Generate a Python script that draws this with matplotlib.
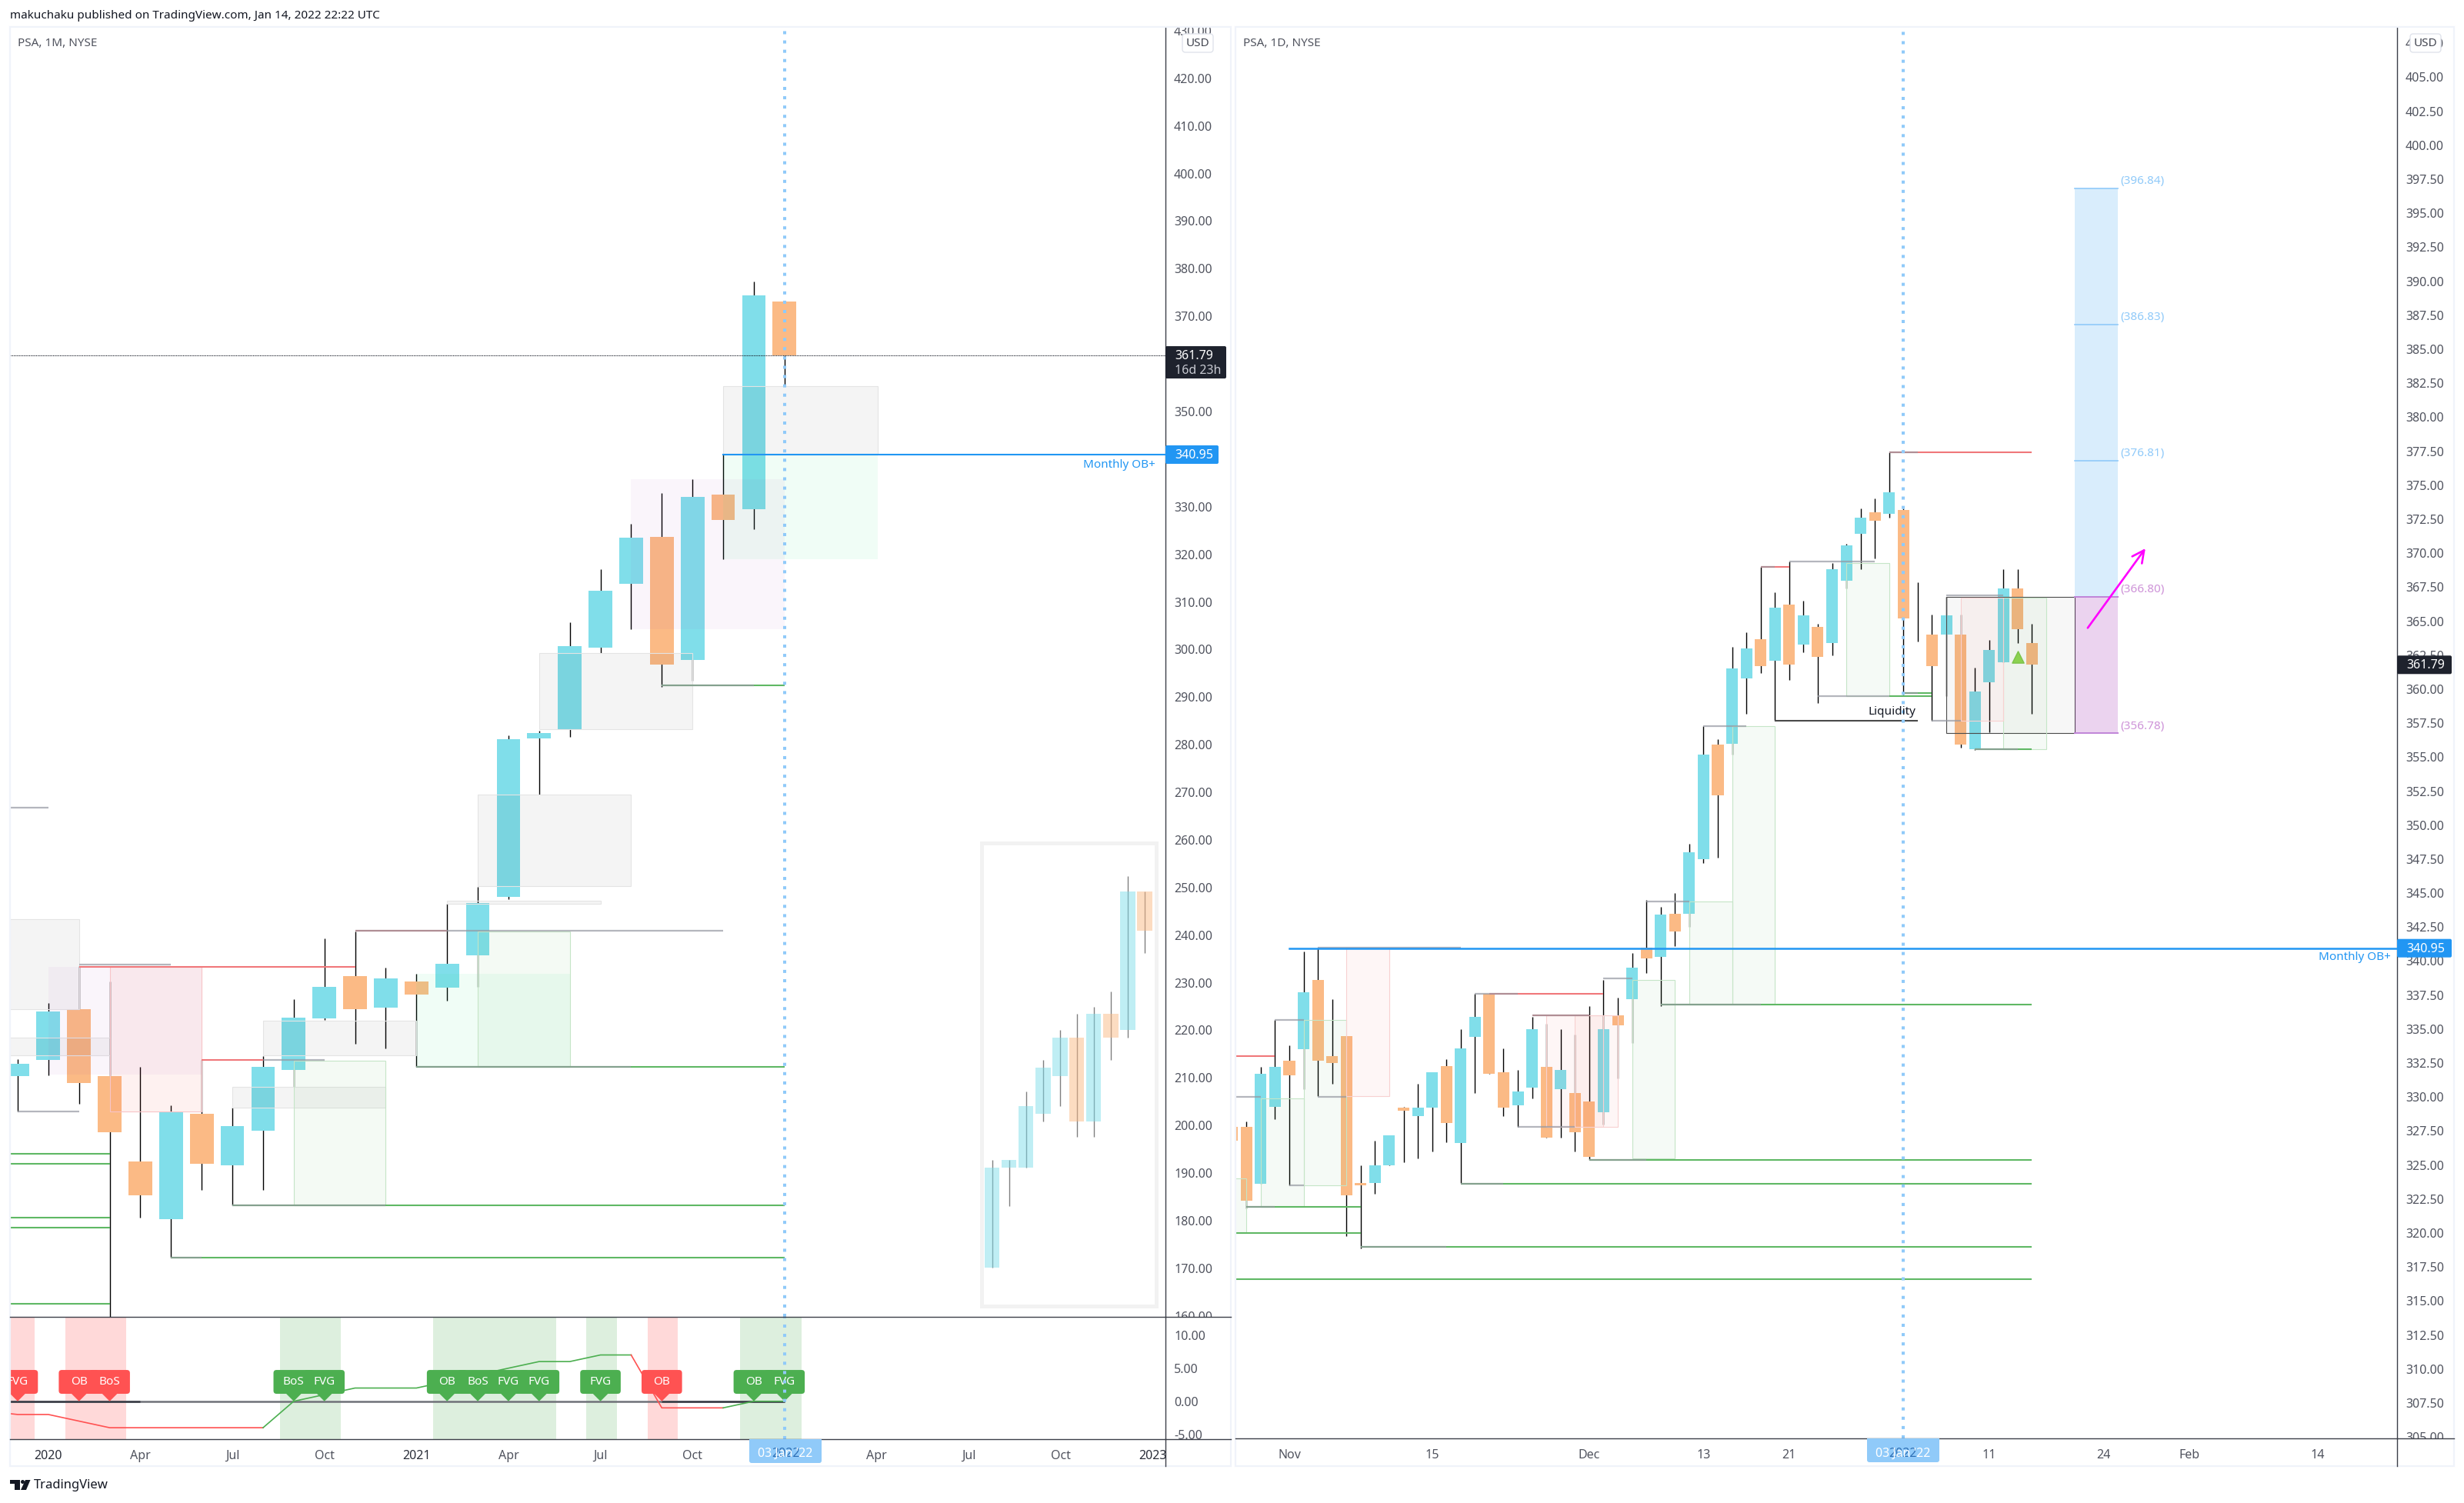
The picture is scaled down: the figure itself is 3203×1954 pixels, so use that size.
#!/usr/bin/env python
"""PSA monthly and daily candlestick charts, side by side."""

import matplotlib

matplotlib.use("Agg")
import matplotlib.pyplot as plt
import numpy as np
from matplotlib.patches import Circle, FancyBboxPatch, Polygon, Rectangle
from matplotlib.transforms import Bbox

W, H = 3203, 1954
plt.rcParams["font.family"] = ["Noto Sans", "DejaVu Sans"]

UP = "#80DEEA"
DOWN = "#FBBA85"
TEXT = "#50535E"
DARK = "#3C3F48"
BLUE = "#2196F3"
DOTTED = "#90CAF9"
GREEN_LINE = "#5FB864"
RED_LINE = "#F0777A"
GRAY_LINE = "#9598A1"

# monthly candles, Dec 2019 = -1, Jan 2020 = 0
M_X = list(range(-1, 25))
M_OPEN = [210.3, 213.7, 224.5, 210.4, 192.4, 180.3, 202.4, 191.6, 198.9, 211.6, 222.5, 231.4, 224.8,
          230.3, 229.0, 235.7, 248.0, 281.3, 283.1, 300.4, 313.8, 323.7, 297.8, 332.6, 329.5, 373.1]
M_HIGH = [214.0, 225.7, 233.5, 230.2, 212.4, 204.2, 213.8, 203.7, 214.6, 226.6, 239.3, 240.8, 233.2,
          231.9, 246.6, 250.1, 282.0, 282.9, 305.7, 316.9, 326.4, 332.9, 335.7, 341.0, 377.3, 373.3]
M_LOW = [203.0, 210.6, 204.5, 150.0, 180.6, 172.3, 186.4, 183.3, 186.4, 208.1, 222.1, 217.2, 216.2,
         212.3, 226.2, 229.2, 247.5, 269.6, 281.6, 299.3, 304.2, 292.2, 293.4, 318.9, 325.3, 355.6]
M_CLOSE = [213.0, 223.9, 209.0, 198.6, 185.4, 202.9, 191.9, 199.9, 212.4, 222.7, 229.2, 224.4, 230.9,
           227.5, 234.0, 246.7, 281.1, 282.5, 300.7, 312.4, 323.5, 296.8, 332.1, 327.2, 374.4, 361.79]

# faded projection candles at the right of the monthly chart
P_X = [30.77, 31.32, 31.87, 32.43, 32.98, 33.53, 34.08, 34.64, 35.19, 35.74]
P_OPEN = [170.1, 191.1, 191.1, 202.4, 210.4, 218.5, 200.8, 223.4, 220.1, 249.2]
P_HIGH = [192.7, 192.7, 207.2, 213.8, 220.1, 223.4, 225.0, 228.2, 252.4, 249.2]
P_LOW = [170.1, 183.0, 191.1, 200.8, 204.0, 197.6, 197.6, 213.7, 218.5, 236.2]
P_CLOSE = [191.1, 192.7, 204.0, 212.1, 218.5, 200.8, 223.4, 218.5, 249.2, 241.0]

# daily candles, 3 Jan 2022 = 46
D_X = list(range(-1, 56))
D_OPEN = [327.8, 327.8, 323.6, 329.3, 332.7, 333.5, 338.6, 333.0, 334.5, 323.7, 323.7, 325.0, 329.2, 328.6,
          329.2, 332.3, 326.6, 334.4, 337.6, 331.8, 329.4, 330.7, 332.2, 330.6, 330.3, 329.7, 328.9, 336.0,
          337.2, 341.0, 340.3, 343.5, 343.5, 347.5, 355.9, 356.0, 360.8, 363.7, 362.1, 366.2, 363.3, 364.6,
          363.4, 368.0, 371.4, 373.0, 372.9, 373.2, 364.97, 364.0, 364.0, 364.0, 355.6, 360.5, 362.0, 367.4, 363.4]
D_HIGH = [327.8, 328.2, 332.2, 335.7, 333.8, 340.7, 341.0, 337.2, 334.5, 325.0, 326.8, 327.2, 329.3, 331.0,
          331.8, 332.8, 335.0, 337.6, 337.6, 333.6, 332.0, 335.9, 335.4, 335.0, 334.6, 336.7, 338.6, 337.3,
          340.6, 344.5, 344.0, 345.0, 348.6, 357.3, 356.3, 363.1, 364.2, 369.0, 367.1, 369.4, 366.5, 364.8,
          369.3, 370.7, 373.3, 374.0, 377.4, 373.3, 367.85, 365.5, 366.8, 365.5, 361.6, 363.6, 368.8, 368.8, 364.8]
D_LOW = [326.8, 321.8, 323.6, 328.4, 323.5, 330.6, 330.1, 331.0, 319.8, 318.9, 322.9, 325.0, 325.2, 325.5,
         326.0, 326.7, 323.7, 330.3, 331.7, 328.6, 327.8, 329.9, 327.0, 327.0, 326.0, 325.4, 328.0, 331.4,
         334.0, 339.1, 336.7, 341.1, 342.5, 347.2, 347.6, 355.2, 358.2, 361.2, 357.7, 360.7, 362.7, 359.0,
         362.5, 367.4, 368.8, 369.6, 372.6, 359.6, 363.5, 357.7, 359.5, 355.7, 355.5, 356.8, 362.0, 363.4, 358.2]
D_CLOSE = [326.8, 322.4, 331.7, 332.2, 331.6, 337.7, 332.7, 332.5, 322.8, 323.5, 325.0, 327.2, 329.0, 329.2,
           331.8, 328.1, 333.6, 335.9, 331.7, 329.2, 330.4, 335.0, 327.0, 332.0, 327.4, 325.6, 335.0, 335.3,
           339.5, 340.2, 343.4, 342.2, 348.0, 355.2, 352.2, 361.5, 363.0, 361.7, 366.0, 361.8, 365.4, 362.4,
           368.8, 370.6, 372.6, 372.4, 374.5, 365.2, 365.0, 361.7, 365.4, 355.9, 359.8, 362.9, 367.4, 364.4, 361.79]

# boxes as (x0, x1, low, high)
M_GRAY = [(22, 27.04, 341.0, 355.4), (16, 21, 283.2, 299.3), (14, 19, 250.3, 269.5), (13, 18, 246.6, 247.3),
          (7, 12, 214.7, 222.0), (6, 11, 203.8, 208.1), (-2, 1, 224.5, 243.3), (-2, 2, 214.8, 218.4)]
M_MINT = [(22, 27.04, 318.9, 341.0), (12, 17, 212.4, 231.9)]
M_GREEN = [(14, 17, 212.4, 240.8), (8, 11, 183.3, 213.6)]
M_PURPLE = [(19, 24, 304.2, 335.7), (0, 5, 210.7, 233.3)]
M_RED = [(2, 5, 203.0, 233.3)]

D_GREEN = [(42, 45, 359.5, 369.3), (34, 37, 336.8, 357.3), (31, 34, 336.8, 344.4), (27, 30, 325.5, 338.6),
           (1, 4, 321.9, 329.9), (4, 7, 323.5, 335.7), (-2, 0, 320.0, 324.0), (53, 56, 355.6, 366.75)]
D_RED = [(7, 10, 330.1, 341.0), (21, 26, 327.8, 336.0), (23, 25, 327.8, 336.0), (50, 53, 357.7, 366.75)]

# levels as (x0, x1, price)
M_GREEN_LEVELS = [(20, 24, 292.4), (12, 24, 212.3), (6, 24, 183.3), (4, 24, 172.3), (-2, 2, 194.0),
                  (-2, 2, 192.0), (-2, 2, 180.6), (-2, 2, 178.5), (-2, 2, 162.6)]
M_RED_LEVELS = [(1, 10, 233.3), (10, 13, 240.9), (5, 7, 213.7)]
M_GRAY_LEVELS = [(20, 23, 292.4), (12, 19, 212.3), (6, 11, 183.3), (4, 5, 172.3), (1, 4, 233.8), (10, 22, 240.9),
                 (7, 9, 213.7), (-1, 1, 203.0), (-2, 0, 266.7)]

D_GREEN_LEVELS = [(29, 55, 336.8), (24, 55, 325.4), (15, 55, 323.6), (8, 55, 319.0), (-2, 55, 316.6),
                  (0, 8, 321.9), (-2, 8, 320.0), (45, 48, 359.5), (46, 48, 359.7), (51, 55, 355.6)]
D_RED_LEVELS = [(45, 55, 377.4), (36, 38, 369.0), (17, 25, 337.6), (20, 24, 336.0), (-2, 2, 333.0)]
D_GRAY_LEVELS = [(29, 36, 336.8), (24, 28, 325.4), (15, 18, 323.6), (8, 14, 319.0), (0, 2, 321.9), (45, 47, 377.4),
                 (36, 37, 369.0), (38, 44, 369.4), (40, 45, 359.5), (46, 47, 359.7), (48, 50, 357.7), (32, 35, 357.3),
                 (51, 54, 355.6), (49, 53, 366.9), (28, 31, 344.4), (25, 27, 338.7), (16, 19, 337.6), (20, 24, 336.0),
                 (19, 23, 327.8), (5, 7, 330.0), (3, 4, 323.5), (2, 4, 335.7), (-2, 1, 330.0), (5, 15, 341.0)]

# long/short tool on the daily chart
TARGETS = [396.84, 386.83, 376.81]
ENTRY = 366.80
STOP = 356.78

# market structure indicator below the monthly chart
IND_X = [-2, -1, 0, 1, 2, 7, 8, 9, 10, 12, 13, 14, 15, 16, 17, 18, 19, 20, 22, 23, 24]
IND_Y = [-1.5, -2, -2, -3, -4, -4, 0, 1, 2, 2, 3, 4, 5, 6, 6, 7, 7, -1, -1, 0, 0]
IND_RED_SPANS = [(-2, -0.45), (0.55, 2.53), (19.53, 20.53)]
IND_GREEN_SPANS = [(7.55, 9.53), (12.55, 16.56), (17.53, 18.53), (22.55, 24.55)]
RED_TAGS = [(-1, "FVG"), (1, "OB"), (2, "BoS"), (20, "OB")]
GREEN_TAGS = [(8, "BoS"), (9, "FVG"), (13, "OB"), (14, "BoS"), (15, "FVG"), (16, "FVG"), (18, "FVG"),
              (23, "OB"), (24, "FVG")]

# the 2022 ticks sit inside the crosshair date tag, drawn with it
M_TICKS = [0, 3, 6, 9, 12, 15, 18, 21, 27, 30, 33, 36]
M_TICK_LABELS = ["2020", "Apr", "Jul", "Oct", "2021", "Apr", "Jul", "Oct", "Apr", "Jul", "Oct", "2023"]
D_TICKS = [3, 13, 24, 32, 38, 52, 60, 66, 75]
D_TICK_LABELS = ["Nov", "15", "Dec", "13", "21", "11", "24", "Feb", "14"]


def px_axes(fig, left, top, right, bottom):
    ax = fig.add_axes([left / W, 1 - bottom / H, (right - left) / W, (bottom - top) / H])
    ax.patch.set_alpha(0)
    for side in ["top", "left", "bottom"]:
        ax.spines[side].set_visible(False)
    ax.spines["right"].set_color(DARK)
    ax.spines["right"].set_linewidth(1.0)
    ax.tick_params(length=0)
    return ax


def draw_candles(ax, x, opens, highs, lows, closes, width, alpha=1.0):
    x, opens, highs, lows, closes = map(np.asarray, (x, opens, highs, lows, closes))
    wicks = ax.vlines(x, lows, highs, color="black", linewidth=1.0, alpha=alpha, zorder=2)
    wicks.set_snap(True)
    colors = [UP if c >= o else DOWN for o, c in zip(opens, closes)]
    ax.bar(x, np.abs(closes - opens), width, bottom=np.minimum(opens, closes), color=colors, alpha=alpha, zorder=3)


def draw_boxes(ax, boxes, face, alpha, edge=None):
    for x0, x1, low, high in boxes:
        ax.add_patch(Rectangle((x0, low), x1 - x0, high - low, facecolor=face, alpha=alpha, edgecolor="none", zorder=4))
        if edge:
            ax.add_patch(Rectangle((x0, low), x1 - x0, high - low, fill=False, edgecolor=edge, linewidth=0.8, zorder=4))


def draw_levels(ax, levels, color, lw=1.5, zorder=5, alpha=1.0):
    for x0, x1, price in levels:
        ax.plot([x0, x1], [price, price], color=color, linewidth=lw, alpha=alpha, solid_capstyle="butt", zorder=zorder)


def price_ticks(ax, ticks, clip):
    ax.yaxis.tick_right()
    ax.set_yticks(ticks)
    ax.set_yticklabels([f"{t:.2f}" for t in ticks], fontsize=11.5, color=TEXT)
    ax.tick_params(axis="y", pad=8)
    for label in ax.get_yticklabels():
        label.set_clip_on(True)
        label.set_clip_box(Bbox.from_extents(clip[0], H - clip[3], clip[2], H - clip[1]))


def time_ticks(ax, ticks, labels):
    ax.set_xticks(ticks)
    ax.set_xticklabels(labels, fontsize=11.5, color=TEXT)
    ax.tick_params(axis="x", pad=10)
    for label in ax.get_xticklabels():
        if label.get_text()[:2] == "20":
            label.set_color("#2A2E39")
            label.set_fontweight("semibold")


def to_px(ax, price):
    return H - ax.transData.transform((0, price))[1]


def price_tag(deco, ax, price, left, width, color, second=None):
    y = to_px(ax, price)
    height = 42 if second else 24
    top = y - 12
    deco.add_patch(FancyBboxPatch((left, top), width, height, boxstyle="round,pad=0,rounding_size=2",
                                  facecolor=color, edgecolor="none", zorder=6))
    deco.text(left + 12, y + 1, f"{price:.2f}", color="white", fontsize=11.5, va="center", ha="left", zorder=7)
    if second:
        deco.text(left + 12, y + 20, second, color="#C8CAD2", fontsize=11.5, va="center", ha="left", zorder=7)


def date_tag(deco, left, right, top, bottom):
    deco.add_patch(FancyBboxPatch((left, top), right - left, bottom - top, boxstyle="round,pad=0,rounding_size=3",
                                  facecolor=DOTTED, edgecolor="none", zorder=6))
    deco.add_patch(Rectangle((left, top), right - left, 6, facecolor=DOTTED, edgecolor="none", zorder=6))
    middle = (left + right) / 2
    deco.text(middle, 1889.5, "2022", color="#2D6FB5", fontsize=11.5, fontweight="semibold", ha="center",
              va="center", zorder=7)
    deco.text(middle, 1889.5, "03 Jan '22", color="white", fontsize=11.5, ha="center", va="center", zorder=7)


def usd_box(deco, left):
    deco.add_patch(FancyBboxPatch((left, 44), 40, 24, boxstyle="round,pad=0,rounding_size=4", facecolor="white",
                                  edgecolor="#E0E3EB", linewidth=1.0, zorder=6))
    deco.text(left + 20, 56, "USD", color="#434651", fontsize=11, ha="center", va="center", zorder=7)


def draw_tags(ax, tags, color):
    for x, label in tags:
        ax.add_patch(Polygon([(x - 0.28, 1.3), (x + 0.28, 1.3), (x, 0)], facecolor=color, edgecolor="none", zorder=5))
        ax.add_patch(FancyBboxPatch((x - 0.66, 1.13), 1.32, 3.6, boxstyle="round,pad=0,rounding_size=0.1",
                                    mutation_aspect=4.6, facecolor=color, edgecolor="none", zorder=5))
    for x, label in tags:
        ax.text(x, 2.93, label, color="white", fontsize=11, ha="center", va="center", zorder=6, clip_on=True)


def plot_monthly(fig, deco):
    ax = px_axes(fig, 13, 35, 1515, 1712)
    ax.set_xlim(-1.25, 36.42)
    ax.set_ylim(159.8, 430.8)
    ax.axhline(361.79, color="#131722", linewidth=0.8, linestyle=(0, (1, 1)), zorder=5)
    draw_candles(ax, M_X, M_OPEN, M_HIGH, M_LOW, M_CLOSE, 0.77)
    draw_candles(ax, P_X, P_OPEN, P_HIGH, P_LOW, P_CLOSE, 0.487, alpha=0.5)
    ax.add_patch(Rectangle((30.42, 162), 5.7, 97.3, fill=False, edgecolor="#F2F2F2", linewidth=3.6, zorder=1))
    draw_boxes(ax, M_GRAY, "black", 0.045, "#E4E4E4")
    draw_boxes(ax, M_MINT, "#2FE58A", 0.07)
    draw_boxes(ax, M_GREEN, "#4CAF50", 0.06, "#C5E5C7")
    draw_boxes(ax, M_PURPLE, "#9C27B0", 0.045)
    draw_boxes(ax, M_RED, "#F44336", 0.07, "#F8C4C8")
    draw_levels(ax, M_GREEN_LEVELS, GREEN_LINE)
    draw_levels(ax, M_RED_LEVELS, RED_LINE)
    draw_levels(ax, M_GRAY_LEVELS, GRAY_LINE, lw=1.6, zorder=6, alpha=0.7)
    ax.plot([22, 36.42], [340.95, 340.95], color=BLUE, linewidth=1.5, zorder=6)
    ax.text(36.1, 340.95 - 2.2, "Monthly OB+", color=BLUE, fontsize=11, ha="right", va="center", zorder=7)
    ax.axvline(24, color=DOTTED, linewidth=2.9, linestyle=(0, (1, 2)), zorder=7)
    ax.set_xticks([])
    price_ticks(ax, list(range(160, 431, 10)), (1516, 35, 1600, 1712))

    ind = px_axes(fig, 13, 1712, 1515, 1871)
    ind.set_xlim(-1.25, 36.42)
    ind.set_ylim(-5.73, 12.76)
    for x0, x1 in IND_RED_SPANS:
        ind.axvspan(x0, x1, color="#FF5252", alpha=0.22, linewidth=0, zorder=1)
    for x0, x1 in IND_GREEN_SPANS:
        ind.axvspan(x0, x1, color="#4CAF50", alpha=0.19, linewidth=0, zorder=1)
    ind.plot([-2, 24], [0, 0], color="#6F7178", linewidth=1.8, zorder=3, solid_capstyle="butt")
    ind.plot([-2, 3], [0, 0], color=DARK, linewidth=1.8, zorder=3, solid_capstyle="butt")
    ind.plot([20, 24], [0, 0], color=DARK, linewidth=1.8, zorder=3, solid_capstyle="butt")
    x, y = np.array(IND_X), np.array(IND_Y)
    ind.plot(x[x <= 7], y[x <= 7], color="#FF5252", linewidth=1.2, zorder=4)
    ind.plot(x[(x >= 7) & (x <= 19)], y[(x >= 7) & (x <= 19)], color="#4CAF50", linewidth=1.2, zorder=4)
    ind.plot(x[(x >= 19) & (x <= 22)], y[(x >= 19) & (x <= 22)], color="#FF5252", linewidth=1.2, zorder=4)
    ind.plot(x[x >= 22], y[x >= 22], color="#4CAF50", linewidth=1.2, zorder=4)
    draw_tags(ind, RED_TAGS, "#FF5252")
    draw_tags(ind, GREEN_TAGS, "#4CAF50")
    ind.axvline(24, color=DOTTED, linewidth=2.9, linestyle=(0, (1, 2)), zorder=7)
    price_ticks(ind, [-5, 0, 5, 10], (1516, 1712, 1600, 1871))
    time_ticks(ind, M_TICKS, M_TICK_LABELS)
    for label in ind.get_xticklabels():
        label.set_clip_on(True)
        label.set_clip_box(Bbox.from_extents(13, H - 1906, 1515, H - 1871))

    deco.plot([1515, 1515], [1871, 1906], color=DARK, linewidth=1.0)
    deco.plot([13, 1600], [1712, 1712], color=DARK, linewidth=1.0, zorder=5)
    deco.plot([13, 1600], [1871, 1871], color=DARK, linewidth=1.0, zorder=5)
    price_tag(deco, ax, 361.79, 1515, 79, "#1E222D", second="16d 23h")
    price_tag(deco, ax, 340.95, 1515, 69, BLUE)
    date_tag(deco, 974, 1068, 1871, 1902)
    usd_box(deco, 1537)


def plot_daily(fig, deco):
    ax = px_axes(fig, 1606, 35, 3116, 1870)
    ax.set_xlim(-0.77, 80.56)
    ax.set_ylim(304.9, 408.7)
    draw_candles(ax, D_X, D_OPEN, D_HIGH, D_LOW, D_CLOSE, 0.81)
    draw_boxes(ax, [(49, 58, STOP, ENTRY)], "black", 0.03, "#4A4A4A")
    draw_boxes(ax, D_GREEN, "#4CAF50", 0.05, "#C5E5C7")
    draw_boxes(ax, D_RED, "#F44336", 0.045, "#F8D0D0")
    draw_levels(ax, D_GREEN_LEVELS, GREEN_LINE)
    draw_levels(ax, D_RED_LEVELS, RED_LINE)
    draw_levels(ax, [(37, 47, 357.7)], "#4A4A4A", lw=1.5)
    draw_levels(ax, D_GRAY_LEVELS, GRAY_LINE, lw=1.6, zorder=6, alpha=0.7)

    # long position tool
    ax.add_patch(Rectangle((58, ENTRY), 3, TARGETS[0] - ENTRY, facecolor="#2196F3", alpha=0.17, edgecolor="none", zorder=4))
    ax.add_patch(Rectangle((58, STOP), 3, ENTRY - STOP, facecolor="#9C27B0", alpha=0.2, edgecolor="none", zorder=4))
    for price in TARGETS:
        ax.plot([58, 61], [price, price], color=DOTTED, linewidth=1.2, zorder=5)
        ax.text(61.2, price + 0.5, f"({price:.2f})", color=DOTTED, fontsize=11, va="center", zorder=7)
    for price in [ENTRY, STOP]:
        ax.plot([58, 61], [price, price], color="#C084D8", linewidth=1.4, zorder=5)
        ax.text(61.2, price + 0.5, f"({price:.2f})", color="#CE93D8", fontsize=11, va="center", zorder=7)
    ax.annotate("", xy=(62.94, 370.35), xytext=(58.9, 364.5), zorder=8,
                arrowprops=dict(arrowstyle="->", color="#FF00FF", linewidth=1.9, mutation_scale=28, shrinkA=0, shrinkB=0))
    ax.scatter([54], [362.35], marker="^", s=120, color="#8BD150", edgecolor="#7CC24A", zorder=8)
    ax.text(45.2, 358.3, "Liquidity", color="#131722", fontsize=11, ha="center", va="center", zorder=8)

    ax.plot([3, 80.56], [340.95, 340.95], color=BLUE, linewidth=1.8, zorder=6)
    ax.text(80.1, 340.95 - 0.65, "Monthly OB+", color=BLUE, fontsize=11, ha="right", va="center", zorder=7)
    ax.axvline(46, color=DOTTED, linewidth=2.9, linestyle=(0, (1, 2)), zorder=7)
    price_ticks(ax, list(np.arange(305, 408, 2.5)), (3117, 35, 3190, 1870))
    time_ticks(ax, D_TICKS, D_TICK_LABELS)

    deco.plot([3116, 3116], [1870, 1906], color=DARK, linewidth=1.0)
    deco.plot([1606, 3190], [1870, 1870], color=DARK, linewidth=1.0, zorder=5)
    price_tag(deco, ax, 361.79, 3116, 71, "#1E222D")
    price_tag(deco, ax, 340.95, 3116, 71, BLUE)
    date_tag(deco, 2427, 2521, 1870, 1901)
    usd_box(deco, 3133)


def main():
    fig = plt.figure(figsize=(W / 100, H / 100), dpi=100, facecolor="white")
    deco = fig.add_axes([0, 0, 1, 1], zorder=10)
    deco.set_xlim(0, W)
    deco.set_ylim(H, 0)
    deco.axis("off")
    deco.patch.set_alpha(0)

    plot_monthly(fig, deco)
    plot_daily(fig, deco)

    # panel frames
    for left, right in [(13, 1600), (1606, 3190)]:
        deco.add_patch(Rectangle((left, 35), right - left, 1871, fill=False, edgecolor="#F0F3FA", linewidth=1.6, zorder=1))

    deco.text(13, 20, "makuchaku published on TradingView.com, Jan 14, 2022 22:22 UTC", color="#131722",
              fontsize=11, va="center")
    deco.text(23, 56, "PSA, 1M, NYSE", color=TEXT, fontsize=11, va="center")
    deco.text(1616, 56, "PSA, 1D, NYSE", color=TEXT, fontsize=11, va="center")

    # TradingView logo
    logo = "#131722"
    deco.add_patch(Polygon([(13, 1924), (26, 1924), (26, 1937), (19, 1937), (19, 1929), (13, 1929)], facecolor=logo))
    deco.add_patch(Circle((29.5, 1926.5), 2.5, facecolor=logo))
    deco.add_patch(Polygon([(33, 1924), (39.5, 1924), (34, 1937), (27, 1937)], facecolor=logo))
    deco.text(44, 1931, "TradingView", color=logo, fontsize=12, va="center")

    fig.savefig("out.png", dpi=100)


if __name__ == "__main__":
    main()
